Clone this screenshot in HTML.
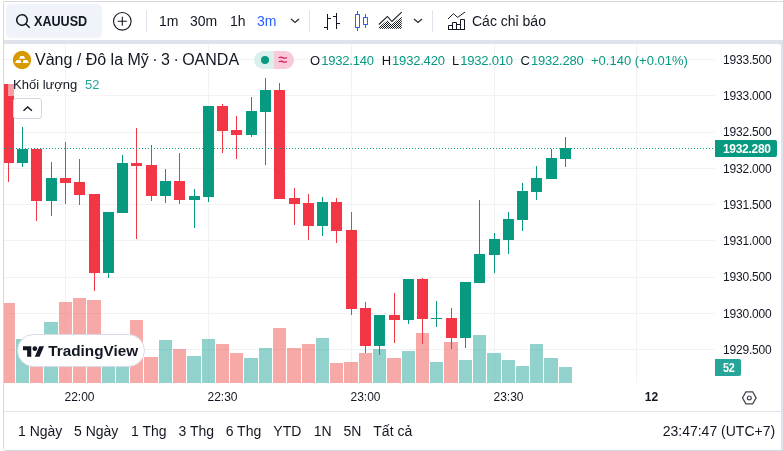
<!DOCTYPE html>
<html><head><meta charset="utf-8"><title>XAUUSD</title>
<style>
html,body{margin:0;padding:0;}
body{width:783px;height:451px;overflow:hidden;background:#fff;position:relative;font-family:"Liberation Sans",Arial,sans-serif;color:#131722;}
.abs{position:absolute;}
.t{position:absolute;white-space:nowrap;line-height:1;}
#frame{position:absolute;left:3px;top:1px;width:790px;height:448px;border:1px solid #d5d7db;border-radius:1px 0 0 3px;}
#band{position:absolute;left:4px;top:40px;width:779px;height:410px;background:#e0e3eb;}
#panel{position:absolute;left:4px;top:44px;width:777px;height:406px;background:#fff;border-radius:0 3px 0 0;}
.sep{position:absolute;width:1px;background:#e0e3eb;top:10px;height:22px;}
.tb{font-size:14px;top:14px;}
.lg{font-size:13px;top:54px;}
.gv{color:#089981;}
.lg .gv{letter-spacing:-0.2px;margin-left:1px;}
.pa{font-size:12px;left:723px;letter-spacing:-0.2px;}
.ta{font-size:12px;top:391px;text-align:center;width:60px;}
.bb{font-size:14px;top:424px;}
</style></head><body>
<div id="frame"></div>
<div id="band"></div>
<div id="panel"></div>

<!-- top toolbar -->
<div class="abs" style="left:6px;top:4px;width:96px;height:34px;border-radius:5px;background:#f0f3fa;"></div>
<svg class="abs" style="left:14px;top:12px" width="18" height="18" viewBox="0 0 18 18"><path fill="#131722" d="M3.5 8a4.500 4.500 0 1 1 9 0 4.500 4.500 0 0 1-9 0ZM8 2a6 6 0 1 0 3.650 10.760l3.580 3.580 1.060-1.060-3.570-3.590A6 6 0 0 0 8 2Z"/></svg>
<div class="t" style="left:33.700px;top:14px;font-size:14px;font-weight:bold;transform:scaleX(0.9);transform-origin:0 0;">XAUUSD</div>
<svg class="abs" style="left:112px;top:11px" width="21" height="21" viewBox="0 0 21 21"><circle cx="10.3" cy="10.3" r="8.800" fill="none" stroke="#131722" stroke-width="1.100"/><path d="M10.300 5.800v9M5.800 10.300h9" stroke="#131722" stroke-width="1.100" fill="none"/></svg>
<div class="sep" style="left:146px"></div>
<div class="t tb" style="left:159px">1m</div>
<div class="t tb" style="left:190px">30m</div>
<div class="t tb" style="left:230px">1h</div>
<div class="t tb" style="left:257px;color:#2962ff">3m</div>
<svg class="abs" style="left:289px;top:16px" width="12" height="10" viewBox="0 0 12 10"><path d="M2 3l4 3.500 4-3.500" fill="none" stroke="#2a2e39" stroke-width="1.300"/></svg>
<div class="sep" style="left:309px"></div>
<svg class="abs" style="left:317px;top:7px" width="28" height="28" viewBox="0 0 28 28"><g fill="none" stroke="#131722" stroke-linecap="square"><path d="M10.500 7.500v15M7.500 20.500H10M13.500 11.500H11M19.500 6.500v15M16.500 9.500H19M22.500 16.500H20"/></g></svg>
<svg class="abs" style="left:347px;top:7px" width="28" height="28" viewBox="0 0 28 28" fill="#2962ff"><path d="M17 11v6h3v-6h-3zm-.5-1h4a.5.5 0 0 1 .5.500v7a.5.5 0 0 1-.5.500h-4a.5.5 0 0 1-.5-.5v-7a.5.5 0 0 1 .5-.5z"/><path d="M18 7h1v3.500h-1zm0 10.500h1V21h-1z"/><path d="M9 8v12h3V8H9zm-.5-1h4a.5.5 0 0 1 .5.500v13a.5.5 0 0 1-.5.500h-4a.5.5 0 0 1-.5-.5v-13a.5.5 0 0 1 .5-.5z"/><path d="M10 4h1v3.500h-1zm0 16.500h1V24h-1z"/></svg>
<svg class="abs" style="left:377px;top:9px" width="28" height="22" viewBox="0 0 28 22"><defs><pattern id="dots" width="2" height="2" patternUnits="userSpaceOnUse"><rect x="0" y="0" width="1" height="1" fill="#131722"/><rect x="1" y="1" width="1" height="1" fill="#131722"/></pattern></defs><path d="M1.900 19.700V17.900L10.400 11.200L14.900 15.200L24.700 7.200V19.700z" fill="url(#dots)"/><path d="M1.900 15.500L10.400 7.400l4.500 5.100L24.700 3.100" fill="none" stroke="#131722" stroke-width="1.050"/></svg>
<svg class="abs" style="left:412px;top:16px" width="12" height="10" viewBox="0 0 12 10"><path d="M2 3l4 3.500 4-3.500" fill="none" stroke="#2a2e39" stroke-width="1.300"/></svg>
<div class="sep" style="left:432px"></div>
<svg class="abs" style="left:442px;top:7px" width="28" height="28" viewBox="0 0 28 28" fill="none"><path stroke="#131722" d="M6 12l4.800-4.800a1 1 0 0 1 1.400 0l2.700 2.700a1 1 0 0 0 1.300.100L23 5"/><path fill="#131722" fill-rule="evenodd" d="M19 12a1 1 0 0 0-1 1v4h-3v-1a1 1 0 0 0-1-1h-3a1 1 0 0 0-1 1v2H7a1 1 0 0 0-1 1v4h17V13a1 1 0 0 0-1-1h-3zm0 10h3v-9h-3v9zm-1 0v-4h-3v4h3zm-4-4.500V22h-3v-6h3v1.500zM10 22v-3H7v3h3z"/></svg>
<div class="t tb" style="left:472px">Các chỉ báo</div>

<!-- chart svg -->
<svg class="abs" style="left:0;top:0" width="783" height="451" viewBox="0 0 783 451" shape-rendering="crispEdges">
<rect x="4" y="59" width="711" height="1" fill="#f2f2f3"/>
<rect x="4" y="95" width="711" height="1" fill="#f2f2f3"/>
<rect x="4" y="132" width="711" height="1" fill="#f2f2f3"/>
<rect x="4" y="168" width="711" height="1" fill="#f2f2f3"/>
<rect x="4" y="204" width="711" height="1" fill="#f2f2f3"/>
<rect x="4" y="240" width="711" height="1" fill="#f2f2f3"/>
<rect x="4" y="277" width="711" height="1" fill="#f2f2f3"/>
<rect x="4" y="313" width="711" height="1" fill="#f2f2f3"/>
<rect x="4" y="349" width="711" height="1" fill="#f2f2f3"/>
<rect x="65" y="44" width="1" height="339" fill="#f2f2f3"/>
<rect x="208" y="44" width="1" height="339" fill="#f2f2f3"/>
<rect x="351" y="44" width="1" height="339" fill="#f2f2f3"/>
<rect x="494" y="44" width="1" height="339" fill="#f2f2f3"/>
<rect x="636" y="44" width="1" height="339" fill="#f2f2f3"/>
<rect x="4" y="303" width="11" height="80" fill="#ef5350" fill-opacity="0.5"/>
<rect x="16" y="339" width="13" height="44" fill="#26a69a" fill-opacity="0.5"/>
<rect x="30" y="350" width="13" height="33" fill="#ef5350" fill-opacity="0.5"/>
<rect x="44" y="322" width="14" height="61" fill="#26a69a" fill-opacity="0.5"/>
<rect x="59" y="302" width="13" height="81" fill="#ef5350" fill-opacity="0.5"/>
<rect x="73" y="298" width="13" height="85" fill="#ef5350" fill-opacity="0.5"/>
<rect x="87" y="300" width="14" height="83" fill="#ef5350" fill-opacity="0.5"/>
<rect x="102" y="340" width="13" height="43" fill="#26a69a" fill-opacity="0.5"/>
<rect x="116" y="340" width="13" height="43" fill="#26a69a" fill-opacity="0.5"/>
<rect x="130" y="320" width="13" height="63" fill="#ef5350" fill-opacity="0.5"/>
<rect x="144" y="357" width="14" height="26" fill="#ef5350" fill-opacity="0.5"/>
<rect x="159" y="340" width="13" height="43" fill="#26a69a" fill-opacity="0.5"/>
<rect x="173" y="349" width="13" height="34" fill="#ef5350" fill-opacity="0.5"/>
<rect x="187" y="356" width="14" height="27" fill="#26a69a" fill-opacity="0.5"/>
<rect x="202" y="339" width="13" height="44" fill="#26a69a" fill-opacity="0.5"/>
<rect x="216" y="344" width="13" height="39" fill="#ef5350" fill-opacity="0.5"/>
<rect x="230" y="353" width="13" height="30" fill="#ef5350" fill-opacity="0.5"/>
<rect x="244" y="358" width="14" height="25" fill="#26a69a" fill-opacity="0.5"/>
<rect x="259" y="348" width="13" height="35" fill="#26a69a" fill-opacity="0.5"/>
<rect x="273" y="328" width="13" height="55" fill="#ef5350" fill-opacity="0.5"/>
<rect x="287" y="348" width="14" height="35" fill="#ef5350" fill-opacity="0.5"/>
<rect x="302" y="344" width="13" height="39" fill="#ef5350" fill-opacity="0.5"/>
<rect x="316" y="338" width="13" height="45" fill="#26a69a" fill-opacity="0.5"/>
<rect x="330" y="363" width="13" height="20" fill="#ef5350" fill-opacity="0.5"/>
<rect x="344" y="362" width="14" height="21" fill="#ef5350" fill-opacity="0.5"/>
<rect x="359" y="353" width="13" height="30" fill="#ef5350" fill-opacity="0.5"/>
<rect x="373" y="349" width="13" height="34" fill="#26a69a" fill-opacity="0.5"/>
<rect x="387" y="358" width="14" height="25" fill="#ef5350" fill-opacity="0.5"/>
<rect x="402" y="351" width="13" height="32" fill="#26a69a" fill-opacity="0.5"/>
<rect x="416" y="333" width="13" height="50" fill="#ef5350" fill-opacity="0.5"/>
<rect x="430" y="362" width="13" height="21" fill="#26a69a" fill-opacity="0.5"/>
<rect x="444" y="342" width="14" height="41" fill="#ef5350" fill-opacity="0.5"/>
<rect x="459" y="360" width="13" height="23" fill="#26a69a" fill-opacity="0.5"/>
<rect x="473" y="335" width="13" height="48" fill="#26a69a" fill-opacity="0.5"/>
<rect x="487" y="353" width="14" height="30" fill="#26a69a" fill-opacity="0.5"/>
<rect x="502" y="360" width="13" height="23" fill="#26a69a" fill-opacity="0.5"/>
<rect x="516" y="366" width="13" height="17" fill="#26a69a" fill-opacity="0.5"/>
<rect x="530" y="344" width="13" height="39" fill="#26a69a" fill-opacity="0.5"/>
<rect x="544" y="358" width="14" height="25" fill="#26a69a" fill-opacity="0.5"/>
<rect x="559" y="367" width="13" height="16" fill="#26a69a" fill-opacity="0.5"/>
<rect x="8" y="84" width="1" height="98" fill="#f23645"/>
<rect x="4" y="84" width="10" height="79" fill="#f23645"/>
<rect x="22" y="127" width="1" height="40" fill="#089981"/>
<rect x="17" y="149" width="11" height="14" fill="#089981"/>
<rect x="36" y="149" width="1" height="72" fill="#f23645"/>
<rect x="31" y="149" width="11" height="52" fill="#f23645"/>
<rect x="51" y="162" width="1" height="54" fill="#089981"/>
<rect x="46" y="178" width="11" height="23" fill="#089981"/>
<rect x="65" y="142" width="1" height="62" fill="#f23645"/>
<rect x="60" y="178" width="11" height="5" fill="#f23645"/>
<rect x="79" y="159" width="1" height="46" fill="#f23645"/>
<rect x="74" y="182" width="11" height="13" fill="#f23645"/>
<rect x="94" y="194" width="1" height="97" fill="#f23645"/>
<rect x="89" y="194" width="11" height="79" fill="#f23645"/>
<rect x="108" y="212" width="1" height="66" fill="#089981"/>
<rect x="103" y="212" width="11" height="61" fill="#089981"/>
<rect x="122" y="155" width="1" height="58" fill="#089981"/>
<rect x="117" y="163" width="11" height="50" fill="#089981"/>
<rect x="136" y="128" width="1" height="111" fill="#f23645"/>
<rect x="131" y="163" width="11" height="3" fill="#f23645"/>
<rect x="151" y="145" width="1" height="56" fill="#f23645"/>
<rect x="146" y="165" width="11" height="31" fill="#f23645"/>
<rect x="165" y="169" width="1" height="34" fill="#089981"/>
<rect x="160" y="181" width="11" height="15" fill="#089981"/>
<rect x="179" y="153" width="1" height="51" fill="#f23645"/>
<rect x="174" y="181" width="11" height="19" fill="#f23645"/>
<rect x="194" y="189" width="1" height="39" fill="#089981"/>
<rect x="189" y="196" width="11" height="4" fill="#089981"/>
<rect x="208" y="106" width="1" height="96" fill="#089981"/>
<rect x="203" y="106" width="11" height="91" fill="#089981"/>
<rect x="222" y="104" width="1" height="49" fill="#f23645"/>
<rect x="217" y="106" width="11" height="25" fill="#f23645"/>
<rect x="236" y="116" width="1" height="43" fill="#f23645"/>
<rect x="231" y="130" width="11" height="5" fill="#f23645"/>
<rect x="251" y="97" width="1" height="40" fill="#089981"/>
<rect x="246" y="111" width="11" height="24" fill="#089981"/>
<rect x="265" y="78" width="1" height="87" fill="#089981"/>
<rect x="260" y="90" width="11" height="22" fill="#089981"/>
<rect x="279" y="83" width="1" height="116" fill="#f23645"/>
<rect x="274" y="90" width="11" height="109" fill="#f23645"/>
<rect x="294" y="188" width="1" height="37" fill="#f23645"/>
<rect x="289" y="198" width="11" height="6" fill="#f23645"/>
<rect x="308" y="194" width="1" height="46" fill="#f23645"/>
<rect x="303" y="203" width="11" height="23" fill="#f23645"/>
<rect x="322" y="197" width="1" height="39" fill="#089981"/>
<rect x="317" y="202" width="11" height="24" fill="#089981"/>
<rect x="336" y="198" width="1" height="45" fill="#f23645"/>
<rect x="331" y="202" width="11" height="29" fill="#f23645"/>
<rect x="351" y="212" width="1" height="103" fill="#f23645"/>
<rect x="346" y="230" width="11" height="79" fill="#f23645"/>
<rect x="365" y="302" width="1" height="51" fill="#f23645"/>
<rect x="360" y="308" width="11" height="38" fill="#f23645"/>
<rect x="379" y="315" width="1" height="40" fill="#089981"/>
<rect x="374" y="315" width="11" height="31" fill="#089981"/>
<rect x="394" y="293" width="1" height="50" fill="#f23645"/>
<rect x="389" y="315" width="11" height="5" fill="#f23645"/>
<rect x="408" y="279" width="1" height="45" fill="#089981"/>
<rect x="403" y="279" width="11" height="41" fill="#089981"/>
<rect x="422" y="278" width="1" height="66" fill="#f23645"/>
<rect x="417" y="279" width="11" height="40" fill="#f23645"/>
<rect x="436" y="301" width="1" height="26" fill="#089981"/>
<rect x="431" y="318" width="11" height="1" fill="#089981"/>
<rect x="451" y="308" width="1" height="41" fill="#f23645"/>
<rect x="446" y="318" width="11" height="20" fill="#f23645"/>
<rect x="465" y="282" width="1" height="66" fill="#089981"/>
<rect x="460" y="282" width="11" height="56" fill="#089981"/>
<rect x="479" y="200" width="1" height="83" fill="#089981"/>
<rect x="474" y="254" width="11" height="29" fill="#089981"/>
<rect x="494" y="233" width="1" height="40" fill="#089981"/>
<rect x="489" y="239" width="11" height="16" fill="#089981"/>
<rect x="508" y="212" width="1" height="42" fill="#089981"/>
<rect x="503" y="219" width="11" height="21" fill="#089981"/>
<rect x="522" y="183" width="1" height="48" fill="#089981"/>
<rect x="517" y="191" width="11" height="29" fill="#089981"/>
<rect x="536" y="166" width="1" height="34" fill="#089981"/>
<rect x="531" y="178" width="11" height="14" fill="#089981"/>
<rect x="551" y="149" width="1" height="30" fill="#089981"/>
<rect x="546" y="158" width="11" height="21" fill="#089981"/>
<rect x="565" y="137" width="1" height="30" fill="#089981"/>
<rect x="560" y="148" width="11" height="11" fill="#089981"/>
<line x1="4" y1="148.500" x2="715" y2="148.500" stroke="#089981" stroke-width="1" stroke-dasharray="1 2"/>
</svg>

<!-- legend -->
<svg class="abs" style="left:13px;top:51px" width="18" height="18" viewBox="0 0 18 18"><circle cx="9" cy="9" r="9.100" fill="#d69a00"/><path d="M7.400 4.900h3.500l1.300 2.900H6z M3.800 9.100h3.600l1 2.900H2z M10.600 9.100h3.700l1.600 2.900H9.700z" fill="#fff"/></svg>
<div class="t" style="left:35px;top:51.500px;font-size:16px;color:#131722">Vàng / Đô la Mỹ<span style="word-spacing:-1px"> · 3 · </span>OANDA</div>
<div class="abs" style="left:254px;top:51px;width:20px;height:18px;border-radius:9px 0 0 9px;background:#d9f0ec"></div>
<div class="abs" style="left:274px;top:51px;width:20px;height:18px;border-radius:0 9px 9px 0;background:#f9c9d8"></div>
<div class="abs" style="left:261px;top:56px;width:8px;height:8px;border-radius:4px;background:#089981"></div>
<div class="t" style="left:278.200px;top:50.500px;font-size:17px;color:#dc1a5c;transform:scale(1,1.150)">≈</div>
<div class="t lg" style="left:310px">O<span class="gv">1932.140</span></div>
<div class="t lg" style="left:381.700px">H<span class="gv">1932.420</span></div>
<div class="t lg" style="left:452px">L<span class="gv">1932.010</span></div>
<div class="t lg" style="left:520.500px">C<span class="gv">1932.280</span></div>
<div class="t lg gv" style="left:591px">+0.140 (+0.01%)</div>

<div class="abs" style="left:8px;top:76px;width:96px;height:20px;background:rgba(255,255,255,0.5)"></div>
<div class="t" style="left:13px;top:78px;font-size:13px">Khối lượng</div>
<div class="t" style="left:85px;top:78px;font-size:13px;color:#26a69a">52</div>
<div class="abs" style="left:13px;top:98px;width:27px;height:19px;border:1px solid #d3d6e2;border-radius:3px;background:#fff"></div>
<svg class="abs" style="left:21px;top:103px" width="14" height="12" viewBox="0 0 14 12"><path d="M2.500 7.800l4.200-3.900L10.900 7.800" fill="none" stroke="#131722" stroke-width="1.400"/></svg>

<!-- price axis -->
<div class="t pa" style="top:54px">1933.500</div>
<div class="t pa" style="top:90px">1933.000</div>
<div class="t pa" style="top:126px">1932.500</div>
<div class="t pa" style="top:163px">1932.000</div>
<div class="t pa" style="top:199px">1931.500</div>
<div class="t pa" style="top:235px">1931.000</div>
<div class="t pa" style="top:271px">1930.500</div>
<div class="t pa" style="top:308px">1930.000</div>
<div class="t pa" style="top:344px">1929.500</div>
<div class="abs" style="left:715px;top:140px;width:62px;height:17px;background:#089981;border-radius:0 2px 2px 0"></div>
<div class="t pa" style="top:143px;color:#fff;font-weight:bold;letter-spacing:-0.3px">1932.280</div>
<div class="abs" style="left:715px;top:359px;width:26px;height:17px;background:#26a69a;border-radius:0 2px 2px 0"></div>
<div class="t pa" style="top:362px;color:#fff;font-weight:bold;transform:scaleX(0.9);transform-origin:0 0">52</div>

<!-- logo -->
<div class="abs" style="left:17px;top:334px;width:126px;height:31px;border:1px solid #d8dbe6;border-radius:17px;background:#fff"></div>
<svg class="abs" style="left:22.900px;top:343.800px" width="21.300" height="16.200" viewBox="0 0 36 28" preserveAspectRatio="none"><path d="M14 22H7V11H0V4h14v18zM28 22h-8l7.500-18h8L28 22z" fill="#131722"/><circle cx="20" cy="8" r="4" fill="#131722"/></svg>
<div class="t" style="left:48.300px;top:343.200px;font-size:15.300px;font-weight:bold;color:#131722">TradingView</div>

<!-- time axis -->
<div class="t ta" style="left:49.500px">22:00</div>
<div class="t ta" style="left:192.500px">22:30</div>
<div class="t ta" style="left:335.500px">23:00</div>
<div class="t ta" style="left:478.500px">23:30</div>
<div class="t ta" style="left:621.500px;font-weight:bold">12</div>
<svg class="abs" style="left:741px;top:390px" width="17" height="16" viewBox="0 0 17 16"><path d="M4.900 1.900h6.800l3.400 6-3.400 6H4.900l-3.400-6z" fill="none" stroke="#434651" stroke-width="1.200" stroke-linejoin="round"/><circle cx="8.300" cy="7.900" r="1.900" fill="none" stroke="#434651" stroke-width="1.200"/></svg>
<div class="abs" style="left:4px;top:411px;width:777px;height:1px;background:#e0e3eb"></div>

<!-- bottom toolbar -->
<div class="t bb" style="left:18px">1 Ngày</div>
<div class="t bb" style="left:74px">5 Ngày</div>
<div class="t bb" style="left:131px">1 Thg</div>
<div class="t bb" style="left:178.500px">3 Thg</div>
<div class="t bb" style="left:225.700px">6 Thg</div>
<div class="t bb" style="left:273.300px">YTD</div>
<div class="t bb" style="left:313.700px">1N</div>
<div class="t bb" style="left:343.500px">5N</div>
<div class="t bb" style="left:373.300px">Tất cả</div>
<div class="t bb" style="left:662.700px">23:47:47 (UTC+7)</div>
</body></html>
